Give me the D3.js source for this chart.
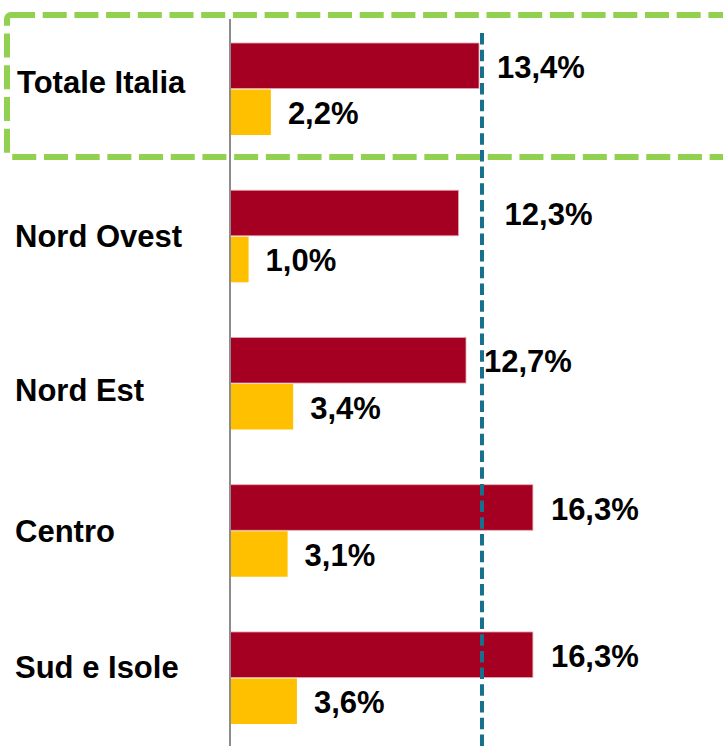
<!DOCTYPE html>
<html>
<head>
<meta charset="utf-8">
<script src="https://cdn.jsdelivr.net/npm/d3@7"></script>
<style>
	body { margin: 0; background: #fff; }
	text { font-family: "Liberation Sans", Arial, sans-serif; font-weight: bold; }
</style>
</head>
<body>
<div id="chart"></div>
<script>
// data
const categories = ["Totale Italia", "Nord Ovest", "Nord Est", "Centro", "Sud e Isole"];
const valuesRed = [13.4, 12.3, 12.7, 16.3, 16.3];
const valuesYellow = [2.2, 1.0, 3.4, 3.1, 3.6];
const referenceValue = 13.4; // totale italia

const width = 723;
const height = 746;

const svg = d3.select("#chart")
	.append("svg")
	.attr("width", width)
	.attr("height", height);

// scales
const x = d3.scaleLinear()
	.domain([0, 26.53])
	.range([230, width]);

const y = d3.scaleBand()
	.domain(categories)
	.range([43, 724])
	.paddingInner(0.375)
	.paddingOuter(0);

const ySub = d3.scaleBand()
	.domain(["red", "yellow"])
	.range([0, y.bandwidth()])
	.paddingInner(0.02);

const fmt = (v) => d3.format(".1f")(v).replace(".", ",") + "%";

// layout tweaks, label placement as in the original slide
const labelDy = [4, 11, 17.5, 11, 0];
const redLabelDx = [0, 28, 0, 0, 0];

const rows = categories.map((c, i) => ({
	cat: c,
	red: valuesRed[i],
	yellow: valuesYellow[i],
	i: i
}));

// green highlight box around totale
svg.append("rect")
	.attr("x", 7)
	.attr("y", 15)
	.attr("width", 740)
	.attr("height", 142)
	.attr("rx", 4)
	.attr("fill", "none")
	.attr("stroke", "#92d050")
	.attr("stroke-width", 6)
	.attr("stroke-dasharray", "24,7.7");

// bars
svg.append("g")
	.selectAll("rect")
	.data(rows)
	.enter()
	.append("rect")
	.attr("x", x(0))
	.attr("y", (d) => y(d.cat) + ySub("red"))
	.attr("width", (d) => x(d.red) - x(0))
	.attr("height", ySub.bandwidth())
	.attr("fill", "#a50021")
	.attr("stroke", "#e3aab3")
	.attr("stroke-width", 0.8);

svg.append("g")
	.selectAll("rect")
	.data(rows)
	.enter()
	.append("rect")
	.attr("x", x(0))
	.attr("y", (d) => y(d.cat) + ySub("yellow"))
	.attr("width", (d) => x(d.yellow) - x(0))
	.attr("height", ySub.bandwidth())
	.attr("fill", "#ffc000");

// vertical axis line
svg.append("line")
	.attr("x1", x(0))
	.attr("x2", x(0))
	.attr("y1", 19)
	.attr("y2", height)
	.attr("stroke", "#8c8c8c")
	.attr("stroke-width", 2);

// reference dashed line
svg.append("line")
	.attr("x1", x(referenceValue) + 3)
	.attr("x2", x(referenceValue) + 3)
	.attr("y1", 33)
	.attr("y2", height)
	.attr("stroke", "#17708e")
	.attr("stroke-width", 4)
	.attr("stroke-dasharray", "11.5,5.2");

// category labels
svg.append("g")
	.selectAll("text")
	.data(rows)
	.enter()
	.append("text")
	.attr("x", (d) => d.i == 0 ? 17 : 15)
	.attr("y", (d) => y(d.cat) + y.bandwidth() / 2 + labelDy[d.i])
	.attr("font-size", "31px")
	.attr("fill", "#000")
	.text((d) => d.cat);

// value labels
svg.append("g")
	.selectAll("text")
	.data(rows)
	.enter()
	.append("text")
	.attr("x", (d) => x(d.red) + 18 + redLabelDx[d.i])
	.attr("y", (d) => y(d.cat) + ySub("red") + ySub.bandwidth() / 2 + 12)
	.attr("font-size", "31px")
	.attr("fill", "#000")
	.text((d) => fmt(d.red));

svg.append("g")
	.selectAll("text")
	.data(rows)
	.enter()
	.append("text")
	.attr("x", (d) => x(d.yellow) + 17)
	.attr("y", (d) => y(d.cat) + ySub("yellow") + ySub.bandwidth() / 2 + 12)
	.attr("font-size", "31px")
	.attr("fill", "#000")
	.text((d) => fmt(d.yellow));
</script>
</body>
</html>
